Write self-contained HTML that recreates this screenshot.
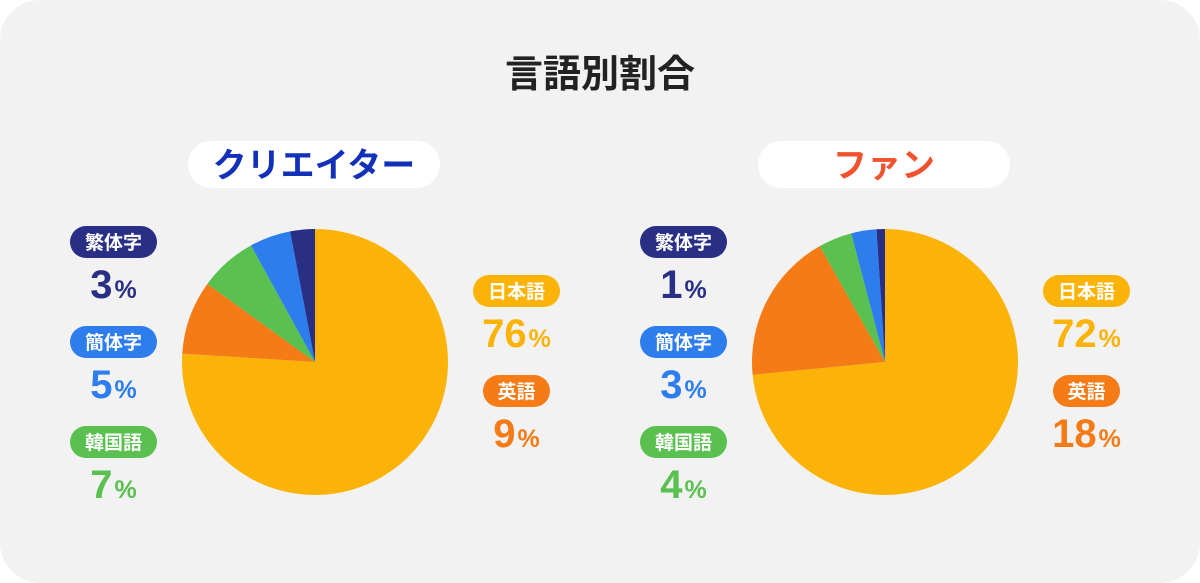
<!DOCTYPE html>
<html><head><meta charset="utf-8"><style>
html,body{margin:0;padding:0;background:#fff;}
svg{display:block;}
text{font-family:"Liberation Sans","Noto Sans CJK JP",sans-serif;font-weight:bold;}
</style></head><body>
<svg id="chart" width="1200" height="583" viewBox="0 0 1200 583">
<rect x="0" y="0" width="1200" height="583" rx="40" fill="#f2f2f2"/>
<text x="600" y="87" text-anchor="middle" font-size="38" fill="#222">言語別割合</text>
<g id="pies"></g>
</svg>
<script>
const categories = ["日本語","英語","韓国語","簡体字","繁体字"];
const colors = ["#fbb308","#f47b16","#5ac04f","#2e7ded","#2a2f86"];
const creatorValues = [76,9,7,5,3];
const fanValues = [72,18,4,3,1];
const groupTitles = ["クリエイター","ファン"];
const titleColors = ["#1230b8","#f0532e"];

const NS="http://www.w3.org/2000/svg";
const root=document.getElementById('pies');
function mk(tag,attrs,parent){const e=document.createElementNS(NS,tag);for(const k in attrs)e.setAttribute(k,attrs[k]);parent.appendChild(e);return e;}
function angle(frac){return frac*2*Math.PI;}
function pt(cx,cy,r,a){return [cx+r*Math.sin(a),cy-r*Math.cos(a)];}

function drawGroup(values,gi,ox){
  const g=mk('g',{},root);
  
  
  const tp=mk('rect',{x:ox+188,y:141,width:252,height:47,rx:23.5,fill:'#fff'},g);
  
  
  const tt=mk('text',{x:ox+314,y:177,'text-anchor':'middle','font-size':34,fill:titleColors[gi]},g);
  tt.textContent=groupTitles[gi];
  
  
  const cx=ox+315,cy=362,r=133;
  const total=values.reduce((a,b)=>a+b,0);
  let acc=0;
  values.forEach((v,i)=>{
    const a0=angle(acc/total),a1=angle((acc+v)/total);acc+=v;
    const p0=pt(cx,cy,r,a0),p1=pt(cx,cy,r,a1);
    const large=(a1-a0)>Math.PI?1:0;
    const s=mk('path',{d:`M${cx},${cy}L${p0[0]},${p0[1]}A${r},${r} 0 ${large} 1 ${p1[0]},${p1[1]}Z`,fill:colors[i]},g);
    
    
  });
  const layout=[[0,473,275],[1,483,375],[4,70,226],[3,70,326],[2,70,426]];
  layout.forEach(([i,lx,ly])=>{
    const w=(i===1)?67:87;
    const pr=mk('rect',{x:ox+lx,y:ly,width:w,height:32,rx:16,fill:colors[i]},g);
    
    
    const lt=mk('text',{x:ox+lx+w/2,y:ly+23,'text-anchor':'middle','font-size':19,fill:'#fff'},g);
    lt.textContent=categories[i];
    
    
    const vt=mk('text',{x:ox+lx+w/2,y:ly+72,'text-anchor':'middle',fill:colors[i]},g);
    const n=mk('tspan',{'font-size':40},vt);n.textContent=values[i];
    const pc=mk('tspan',{'font-size':25,dx:2},vt);pc.textContent='%';
    
    
  });
}
drawGroup(creatorValues,0,0);
drawGroup(fanValues,1,570);
</script>
</body></html>
